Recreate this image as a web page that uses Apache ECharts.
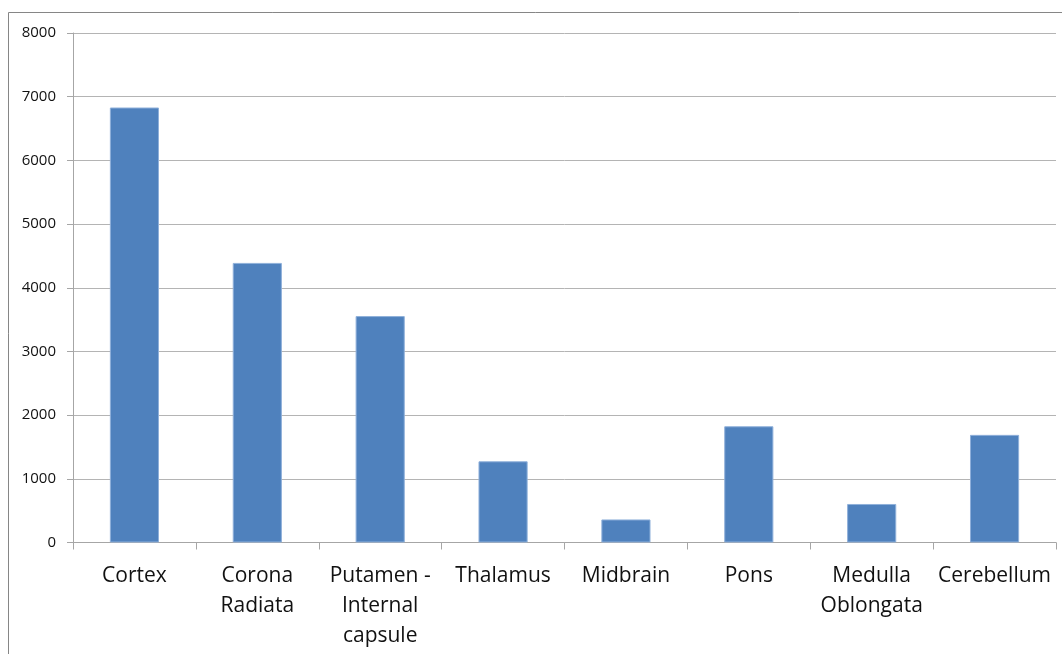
<!DOCTYPE html>
<html>
<head>
<meta charset="utf-8">
<script src="https://cdn.jsdelivr.net/npm/echarts@6/dist/echarts.min.js"></script>
<style>
html,body{margin:0;padding:0;background:#fff;}
#chart{width:1062px;height:654px;}
</style>
</head>
<body>
<div id="chart"></div>
<script>
var categories = ["Cortex", "Corona\nRadiata", "Putamen -\nInternal\ncapsule", "Thalamus", "Midbrain", "Pons", "Medulla\nOblongata", "Cerebellum"];
var values = [6830, 4390, 3555, 1275, 362, 1825, 605, 1690];
var yTicks = [0, 1000, 2000, 3000, 4000, 5000, 6000, 7000, 8000];

var chart = echarts.init(document.getElementById('chart'), null, {renderer: 'canvas'});
chart.setOption({
  animation: false,
  backgroundColor: '#fff',
  graphic: [{
    type: 'rect',
    shape: {x: 8.5, y: 12.5, width: 1200, height: 800},
    style: {fill: 'none', stroke: '#868686', lineWidth: 1},
    z: -1
  }],
  grid: {left: 73, right: 6, top: 33, bottom: 111.5, containLabel: false},
  xAxis: {
    type: 'category',
    data: categories,
    axisLine: {lineStyle: {color: '#a6a6a6', width: 1}},
    axisTick: {show: true, length: 7, lineStyle: {color: '#a6a6a6'}},
    axisLabel: {
      color: '#111', fontSize: 21, fontFamily: 'Open Sans, Lato, sans-serif',
      lineHeight: 30, margin: 19, interval: 0
    },
    splitLine: {show: false}
  },
  yAxis: {
    type: 'value',
    min: yTicks[0],
    max: yTicks[yTicks.length - 1],
    interval: 1000,
    axisLine: {show: true, lineStyle: {color: '#a6a6a6', width: 1}},
    axisTick: {show: true, length: 6, lineStyle: {color: '#a6a6a6'}},
    axisLabel: {
      color: '#111', fontSize: 15, fontFamily: 'Open Sans, Lato, sans-serif', margin: 17,
      formatter: function (v) { return String(v); }
    },
    splitLine: {show: true, lineStyle: {color: '#b4b4b4', width: 1}}
  },
  series: [{
    type: 'bar',
    data: values,
    barWidth: '40%',
    itemStyle: {color: '#4f81bd', borderColor: '#8fb0da', borderWidth: 1}
  }]
});
</script>
</body>
</html>
